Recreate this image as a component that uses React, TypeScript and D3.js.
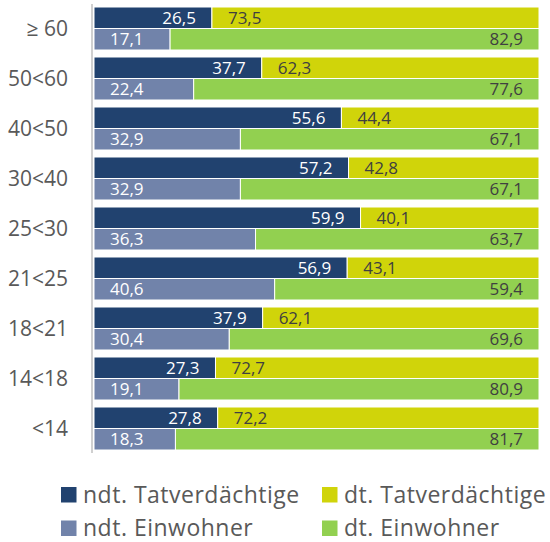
import React from "react";
import * as d3 from "d3";

const categories = ["≥ 60", "50<60", "40<50", "30<40", "25<30", "21<25", "18<21", "14<18", "<14"];
const ndtTatverdaechtige = [26.5, 37.7, 55.6, 57.2, 59.9, 56.9, 37.9, 27.3, 27.8];
const dtTatverdaechtige = [73.5, 62.3, 44.4, 42.8, 40.1, 43.1, 62.1, 72.7, 72.2];
const ndtEinwohner = [17.1, 22.4, 32.9, 32.9, 36.3, 40.6, 30.4, 19.1, 18.3];
const dtEinwohner = [82.9, 77.6, 67.1, 67.1, 63.7, 59.4, 69.6, 80.9, 81.7];
const legendLabels = ["ndt. Tatverdächtige", "dt. Tatverdächtige", "ndt. Einwohner", "dt. Einwohner"];

const C_NDT_T = "#21426f";
const C_DT_T = "#d0d40a";
const C_NDT_E = "#7183aa";
const C_DT_E = "#92d050";
const FONT = "'Open Sans', sans-serif";

const fmt = (v: number) => v.toFixed(1).replace(".", ",");

export default function App() {
  const W = 550, H = 542;
  const x = d3.scaleLinear().domain([0, 100]).range([94, 539]);
  const y = d3.scaleBand<string>().domain(categories).range([3.5, 453.5]).paddingInner(0.14).paddingOuter(0.07);
  const bh = y.bandwidth() / 2;
  const pad = 16;

  return (
    <svg width={W} height={H} style={{ position: "absolute", left: 0, top: 0, background: "#fff" }} fontFamily={FONT}>
      {categories.map((c, i) => {
        const y0 = y(c)!;
        const a = ndtTatverdaechtige[i], b = dtTatverdaechtige[i];
        const e = ndtEinwohner[i], f = dtEinwohner[i];
        return (
          <g key={c}>
            <rect x={x(0)} y={y0} width={x(a) - x(0)} height={bh} fill={C_NDT_T} stroke="#fff" strokeWidth={1} />
            <rect x={x(a)} y={y0} width={x(a + b) - x(a)} height={bh} fill={C_DT_T} stroke="#fff" strokeWidth={1} />
            <rect x={x(0)} y={y0 + bh} width={x(e) - x(0)} height={bh} fill={C_NDT_E} stroke="#fff" strokeWidth={1} />
            <rect x={x(e)} y={y0 + bh} width={x(e + f) - x(e)} height={bh} fill={C_DT_E} stroke="#fff" strokeWidth={1} />
            <text x={x(a) - pad} y={y0 + bh / 2} dy="0.36em" textAnchor="end" fill="#fff" fontSize={17}>{fmt(a)}</text>
            <text x={x(a) + pad} y={y0 + bh / 2} dy="0.36em" textAnchor="start" fill="#404040" fontSize={17}>{fmt(b)}</text>
            <text x={x(0) + pad} y={y0 + bh * 1.5} dy="0.36em" textAnchor="start" fill="#fff" fontSize={17}>{fmt(e)}</text>
            <text x={x(e + f) - pad} y={y0 + bh * 1.5} dy="0.36em" textAnchor="end" fill="#404040" fontSize={17}>{fmt(f)}</text>
            <text x={68} y={y0 + bh} dy="0.37em" textAnchor="end" fill="#595959" fontSize={21}>{c}</text>
          </g>
        );
      })}
      <line x1={92} x2={92} y1={4} y2={453} stroke="#d0d0d0" strokeWidth={2} />
      {legendLabels.map((l, i) => {
        const col = i % 2, row = Math.floor(i / 2);
        const lx = col === 0 ? 61 : 322;
        const base = row === 0 ? 502.5 : 536;
        const colors = [C_NDT_T, C_DT_T, C_NDT_E, C_DT_E];
        return (
          <g key={l}>
            <rect x={lx} y={base - 15.5} width={15.5} height={15.5} fill={colors[i]} />
            <text x={lx + 22} y={base} fill="#595959" fontSize={23} letterSpacing={0.5}>{l}</text>
          </g>
        );
      })}
    </svg>
  );
}
